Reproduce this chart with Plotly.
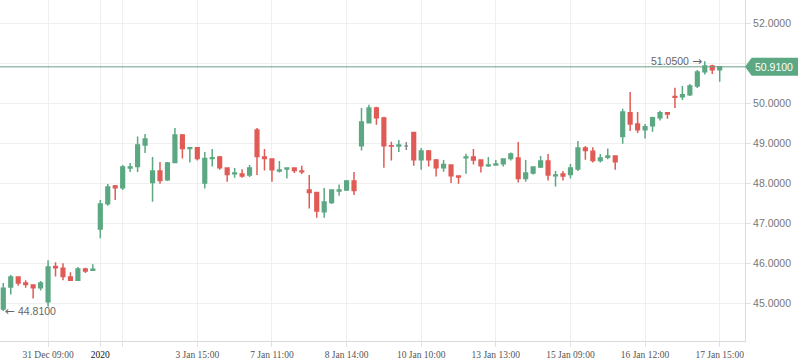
import plotly.graph_objects as go

# ---- data ----
opens = [44.86, 45.41, 45.66, 45.51, 45.46, 45.39, 45.04, 45.92, 45.88, 45.66,
         45.58, 45.86, 45.83, 46.86, 47.49, 47.93, 47.89, 48.38, 48.42, 48.96,
         48.02, 48.31, 48.09, 48.52, 49.21, 48.87, 48.89, 48.01, 48.62, 48.66,
         48.38, 48.24, 48.23, 48.21, 49.33, 48.66, 48.61, 48.31, 48.36, 48.38,
         48.31, 47.83, 47.77, 47.29, 47.52, 47.81, 47.83, 48.06, 48.94, 49.51,
         49.88, 49.63, 48.94, 48.93, 48.93, 49.27, 48.59, 48.81, 48.58, 48.39,
         48.46, 48.18, 48.64, 48.66, 48.58, 48.44, 48.46, 48.49, 48.62, 48.63,
         48.12, 48.26, 48.41, 48.56, 48.19, 48.23, 48.22, 48.36, 48.88, 48.80,
         48.57, 48.65, 48.68, 49.17, 49.76, 49.48, 49.34, 49.44, 49.64, 49.76,
         50.17, 50.16, 50.21, 50.43, 50.79, 50.93, 50.84]
highs = [45.51, 45.71, 45.68, 45.58, 45.47, 45.56, 46.08, 46.03, 46.00, 45.78,
         45.91, 45.89, 45.98, 47.58, 47.98, 47.96, 48.46, 48.51, 49.17, 49.23,
         48.66, 48.53, 48.53, 49.38, 49.23, 48.91, 48.89, 48.78, 48.86, 48.68,
         48.38, 48.38, 48.35, 48.46, 49.38, 48.86, 48.61, 48.56, 48.38, 48.38,
         48.44, 48.21, 47.77, 47.88, 47.84, 47.97, 48.08, 48.28, 49.88, 49.96,
         49.91, 49.66, 49.04, 49.08, 49.03, 49.29, 48.88, 48.83, 48.61, 48.58,
         48.46, 48.18, 48.74, 48.86, 48.58, 48.66, 48.58, 48.61, 48.77, 49.03,
         48.58, 48.41, 48.68, 48.73, 48.31, 48.31, 48.48, 49.06, 48.93, 48.90,
         48.73, 48.87, 48.68, 49.86, 50.28, 49.78, 49.48, 49.66, 49.81, 49.76,
         50.39, 50.43, 50.48, 50.83, 51.05, 50.96, 50.93]
lows = [44.81, 45.22, 45.44, 45.39, 45.12, 45.32, 44.92, 45.67, 45.58, 45.56,
        45.57, 45.76, 45.82, 46.63, 47.44, 47.58, 47.83, 48.28, 48.28, 48.76,
        47.54, 47.99, 48.06, 48.52, 48.62, 48.52, 48.57, 47.87, 48.42, 48.34,
        48.04, 48.14, 48.14, 48.16, 48.21, 48.32, 48.04, 48.27, 48.12, 48.26,
        48.23, 47.37, 47.14, 47.14, 47.48, 47.69, 47.81, 47.71, 48.82, 49.51,
        49.46, 48.39, 48.57, 48.78, 48.83, 48.44, 48.34, 48.42, 48.17, 48.29,
        48.01, 47.99, 48.24, 48.47, 48.27, 48.41, 48.44, 48.42, 48.57, 48.02,
        48.04, 48.22, 48.38, 48.07, 47.92, 48.07, 48.12, 48.31, 48.59, 48.52,
        48.52, 48.60, 48.34, 48.99, 49.31, 49.26, 49.12, 49.29, 49.57, 49.61,
        49.88, 50.08, 50.18, 50.38, 50.72, 50.73, 50.54]
closes = [45.38, 45.66, 45.51, 45.47, 45.39, 45.51, 45.91, 45.89, 45.67, 45.58,
          45.86, 45.81, 45.85, 47.48, 47.91, 47.89, 48.41, 48.41, 48.96, 49.11,
          48.31, 48.07, 48.51, 49.21, 48.87, 48.89, 48.62, 48.62, 48.64, 48.39,
          48.22, 48.26, 48.18, 48.38, 48.67, 48.62, 48.34, 48.33, 48.38, 48.32,
          48.29, 47.77, 47.31, 47.53, 47.83, 47.83, 48.06, 47.82, 49.53, 49.88,
          49.64, 48.94, 48.93, 48.96, 48.93, 48.59, 48.81, 48.59, 48.39, 48.47,
          48.19, 48.16, 48.66, 48.58, 48.44, 48.46, 48.48, 48.61, 48.73, 48.12,
          48.26, 48.41, 48.56, 48.21, 48.21, 48.18, 48.38, 48.88, 48.82, 48.57,
          48.63, 48.68, 48.54, 49.78, 49.48, 49.34, 49.41, 49.64, 49.76, 49.73,
          50.15, 50.21, 50.43, 50.78, 50.93, 50.84, 50.91]

tick_idx = [6, 13, 16, 26, 36, 46, 56, 66, 76, 86, 96]
tick_text = ["31 Dec 09:00", "<span style='color:#111'>2020</span>", "",
             "3 Jan 15:00", "7 Jan 11:00", "8 Jan 14:00", "10 Jan 10:00",
             "13 Jan 13:00", "15 Jan 09:00", "16 Jan 12:00", "17 Jan 15:00"]
y_ticks = [45, 46, 47, 48, 49, 50, 51, 52]

GREEN = "#5BA883"
RED = "#E15B56"
GRAY = "#8a8a8a"

n = len(opens)
idx = list(range(n))
flat = [i for i in idx if opens[i] == closes[i]]
moving = [i for i in idx if opens[i] != closes[i]]

fig = go.Figure()
fig.add_trace(go.Candlestick(
    x=[i for i in moving],
    open=[opens[i] for i in moving], high=[highs[i] for i in moving],
    low=[lows[i] for i in moving], close=[closes[i] for i in moving],
    increasing=dict(line=dict(color=GREEN, width=1.5), fillcolor=GREEN),
    decreasing=dict(line=dict(color=RED, width=1.5), fillcolor=RED),
    whiskerwidth=0, hoverinfo="skip"))
fig.add_trace(go.Candlestick(
    x=[i for i in flat],
    open=[opens[i] for i in flat], high=[highs[i] for i in flat],
    low=[lows[i] for i in flat], close=[closes[i] for i in flat],
    increasing=dict(line=dict(color=GRAY, width=1.5), fillcolor=GRAY),
    decreasing=dict(line=dict(color=GRAY, width=1.5), fillcolor=GRAY),
    whiskerwidth=0, hoverinfo="skip"))

last = closes[-1]
imax = max(idx, key=lambda i: highs[i])
imin = min(idx, key=lambda i: lows[i])

# last price line and tag
fig.add_shape(type="line", xref="paper", yref="y", x0=0, x1=1, y0=last, y1=last,
              line=dict(color="#6a9f86", width=1), layer="above")
h = 0.225
fig.add_shape(type="path", xref="paper", yref="y",
              path=(f"M 1.0,{last} L 1.009,{last - h} L 1.072,{last - h} "
                    f"L 1.072,{last + h} L 1.009,{last + h} Z"),
              fillcolor=GREEN, line=dict(width=0), layer="above")
fig.add_annotation(xref="paper", yref="y", x=1.039, y=last, text=f"{last:.4f}",
                   showarrow=False, xanchor="center", yanchor="middle",
                   font=dict(family="Liberation Sans", size=10.5, color="white"))

# high / low markers
ARROW_L = "<span style='font-family:DejaVu Sans;font-size:12px'>\u2190</span>"
ARROW_R = "<span style='font-family:DejaVu Sans;font-size:12px'>\u2192</span>"
fig.add_annotation(x=imin, y=lows[imin], text=f"{ARROW_L} {lows[imin]:.4f}", showarrow=False,
                   xanchor="left", yanchor="middle", xshift=0,
                   font=dict(family="Liberation Sans", size=10.5, color="#666"))
fig.add_annotation(x=imax, y=highs[imax], text=f"{highs[imax]:.4f} {ARROW_R}", showarrow=False,
                   xanchor="right", yanchor="middle", xshift=-1,
                   font=dict(family="Liberation Sans", size=10.5, color="#666"))

fig.update_layout(
    width=798, height=363,
    margin=dict(l=0, r=53, t=0, b=22),
    plot_bgcolor="white", paper_bgcolor="white",
    showlegend=False,
    xaxis=dict(type="linear", range=[-0.44, 99.39], tickvals=tick_idx, ticktext=tick_text,
               showgrid=True, gridcolor="#efefef", gridwidth=1, zeroline=False,
               showline=True, linecolor="#dadada", linewidth=1,
               ticks="outside", ticklen=5, tickcolor="#e2e2e2",
               tickfont=dict(family="Liberation Serif", size=9.5, color="#555"),
               rangeslider=dict(visible=False), fixedrange=True, automargin=False),
    yaxis=dict(side="right", range=[44.06, 52.58], tickvals=y_ticks,
               ticktext=["" if v == 51 else f"{v:.4f}" for v in y_ticks],
               showgrid=True, gridcolor="#efefef", gridwidth=1, zeroline=False,
               showline=True, linecolor="#dadada", linewidth=1,
               ticks="outside", ticklen=5, tickcolor="#e2e2e2",
               tickfont=dict(family="Liberation Sans", size=10.5, color="#777"),
               fixedrange=True, automargin=False),
)

fig.write_html("out.html", config={"displayModeBar": False},
               post_script="document.body.style.margin='0';document.body.style.overflow='hidden';")
